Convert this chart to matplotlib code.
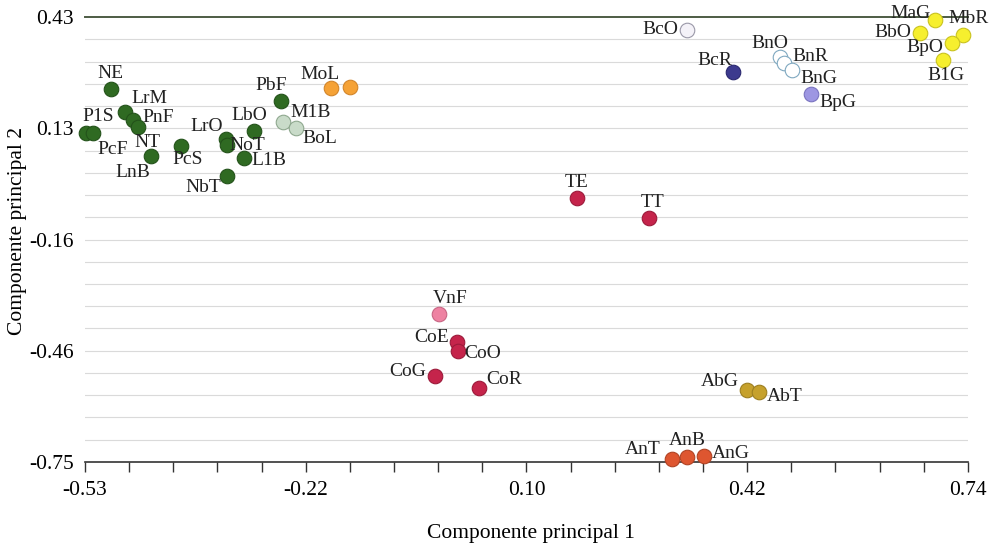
import matplotlib
matplotlib.use('Agg')
import matplotlib.pyplot as plt
import numpy as np

plt.rcParams['font.family'] = ['Liberation Serif', 'DejaVu Serif']

# scores on the first two principal components
names = ['P1S', 'PcF', 'NE', 'LrM', 'PnF', 'NT', 'LnB', 'PcS', 'LrO', 'NoT',
         'LbO', 'L1B', 'NbT', 'PbF', 'M1B', 'BoL', 'MoL', 'MoL2',
         'BcO', 'BcR', 'BnO', 'BnR', 'BnG', 'BpG',
         'MaG', 'BbO', 'MbR', 'BpO', 'B1G',
         'TE', 'TT', 'VnF', 'CoE', 'CoO', 'CoG', 'CoR',
         'AbG', 'AbT', 'AnT', 'AnB', 'AnG']
pc1 = [-0.529, -0.518, -0.493, -0.472, -0.461, -0.454, -0.435, -0.392, -0.327, -0.326,
       -0.287, -0.301, -0.326, -0.248, -0.245, -0.227, -0.176, -0.149,
       0.336, 0.402, 0.469, 0.476, 0.487, 0.514,
       0.692, 0.671, 0.733, 0.717, 0.704,
       0.177, 0.281, -0.021, 0.005, 0.006, -0.027, 0.037,
       0.422, 0.439, 0.314, 0.336, 0.360]
pc2 = [0.122, 0.122, 0.239, 0.178, 0.157, 0.138, 0.061, 0.088, 0.106, 0.090,
       0.128, 0.056, 0.008, 0.207, 0.152, 0.136, 0.242, 0.244,
       0.396, 0.284, 0.324, 0.308, 0.289, 0.226,
       0.422, 0.388, 0.382, 0.361, 0.316,
       -0.050, -0.103, -0.358, -0.432, -0.456, -0.522, -0.554,
       -0.559, -0.565, -0.742, -0.737, -0.734]
groups = ['g'] * 14 + ['lg', 'lg', 'o', 'o',
          'wp', 'nv', 'wb', 'wb', 'wb', 'lv',
          'y', 'y', 'y', 'y', 'y',
          'r', 'r', 'pk', 'r', 'r', 'r', 'r',
          'gd', 'gd', 'rr', 'rr', 'rr']

x_ticks = [-0.53, -0.2125, 0.105, 0.4225, 0.74]
x_labels = ['-0.53', '-0.22', '0.10', '0.42', '0.74']
y_ticks = [-0.75, -0.455, -0.16, 0.135, 0.43]
y_labels = ['-0.75', '-0.46', '-0.16', '0.13', '0.43']

face = {'g': '#2f6a22', 'lg': '#c9dbc9', 'o': '#f5a236', 'wp': '#f4f2f8',
        'nv': '#3c3a8e', 'wb': '#ffffff', 'lv': '#9d96e2', 'y': '#f6ef2e',
        'r': '#c5244b', 'pk': '#ee82a2', 'gd': '#c6a12c', 'rr': '#de5630'}
edge = {'g': '#23521a', 'lg': '#8fa88f', 'o': '#d2852a', 'wp': '#9a98a8',
        'nv': '#2a2870', 'wb': '#7fa8c0', 'lv': '#7a74c0', 'y': '#c9c21e',
        'r': '#9c1a3a', 'pk': '#c86684', 'gd': '#9d7f20', 'rr': '#b04324'}

# label offsets in points (dx, dy, ha)
lab = {'P1S': (9, 12, 'center'), 'PcF': (14, -12, 'center'), 'NE': (0, 11, 'center'),
       'LrM': (17, 10, 'center'), 'PnF': (7, 2, 'left'), 'NT': (7, -11, 'center'),
       'LnB': (-13, -12, 'center'), 'PcS': (5, -10, 'center'), 'LrO': (-14, 9, 'center'),
       'NoT': (2, 0, 'left'), 'LbO': (-3, 11, 'center'), 'L1B': (5, -2, 'left'),
       'NbT': (-17, -8, 'center'), 'PbF': (-7, 11, 'center'), 'M1B': (5, 7, 'left'),
       'BoL': (5, -8, 'left'), 'MoL': (-8, 10, 'center'),
       'BcO': (-6, 0, 'right'), 'BcR': (-13, 8, 'center'), 'BnO': (-7, 10, 'center'),
       'BnR': (6, 5, 'left'), 'BnG': (6, -6, 'left'), 'BpG': (6, -6, 'left'),
       'MaG': (-17, 5, 'center'), 'MbR': (4, 12, 'center'), 'BbO': (-6, 0, 'right'),
       'BpO': (-6, -3, 'right'), 'B1G': (2, -11, 'center'),
       'TE': (0, 11, 'center'), 'TT': (3, 11, 'center'), 'VnF': (8, 11, 'center'),
       'CoE': (-6, 3, 'right'), 'CoO': (5, -2, 'left'), 'CoG': (-6, 3, 'right'),
       'CoR': (5, 6, 'left'), 'AbG': (-6, 6, 'right'), 'AbT': (6, -3, 'left'),
       'AnT': (-8, 7, 'right'), 'AnB': (0, 12, 'center'), 'AnG': (6, 2, 'left')}

fig = plt.figure(figsize=(9.95, 5.49), dpi=100)
ax = fig.add_axes([0.0854, 0.1585, 0.8874, 0.8105])

# horizontal grid
for gy in np.linspace(-0.75, 0.43, 21)[1:-1]:
    ax.axhline(gy, color='#dadada', lw=0.8, zorder=0)
ax.axhline(0.43, color='#4d5c44', lw=1.4, zorder=1, clip_on=False)

for i in range(len(names)):
    g = groups[i]
    ax.scatter(pc1[i], pc2[i], s=110, color=face[g], edgecolors=edge[g],
               linewidths=0.8, zorder=3, clip_on=False)
    if names[i] in lab:
        dx, dy, ha = lab[names[i]]
        ax.annotate(names[i], (pc1[i], pc2[i]), xytext=(dx, dy),
                    textcoords='offset points', ha=ha, va='center',
                    fontsize=14, color='#222222', zorder=4)

ax.set_xlim(-0.53, 0.74)
ax.set_ylim(-0.75, 0.43)
ax.set_xticks(x_ticks)
ax.set_xticklabels(x_labels, fontsize=15.5)
ax.set_xticks(np.linspace(-0.53, 0.74, 21), minor=True)
ax.set_yticks(y_ticks)
ax.set_yticklabels(y_labels, fontsize=15.5)
ax.tick_params(axis='x', which='both', direction='out', length=7.5, width=1,
               color='#333333', pad=6)
ax.tick_params(axis='y', length=0, pad=8)

for s in ['top', 'right', 'left']:
    ax.spines[s].set_visible(False)
ax.spines['bottom'].set_color('#333333')
ax.spines['bottom'].set_linewidth(1.2)

ax.set_xlabel('Componente principal 1', fontsize=15.5, va='center')
ax.xaxis.set_label_coords(0.505, -0.16)
ax.set_ylabel('Componente principal 2', fontsize=15.5, va='center')
ax.yaxis.set_label_coords(-0.076, 0.519)

fig.savefig('out.png', dpi=100)
